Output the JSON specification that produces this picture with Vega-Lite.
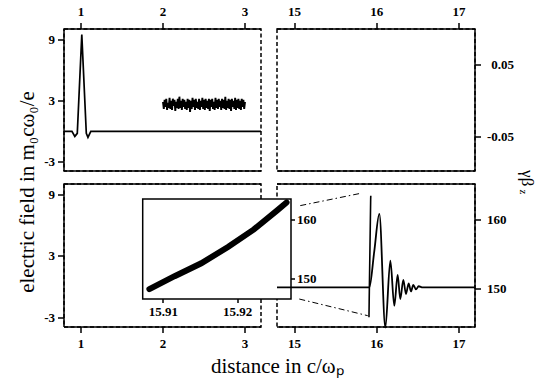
{
  "$schema": "https://vega.github.io/schema/vega-lite/v6.json",
  "background": "white",
  "padding": {"left": 16, "top": 5, "right": 5, "bottom": 5},
  "config": {
    "font": "Liberation Serif",
    "view": {"stroke": "black", "strokeWidth": 1.5, "strokeDash": [4, 2.5]},
    "style": {
      "guide-label": {"font": "Liberation Serif", "fontSize": 13, "fill": "black", "fontWeight": "bold"},
      "guide-title": {"font": "Liberation Serif", "fill": "black", "fontWeight": "normal"}
    },
    "axis": {
      "translate": 0,
      "domainColor": "black", "domainWidth": 1.5,
      "tickColor": "black", "tickWidth": 1.5, "tickSize": 6,
      "labelColor": "black", "labelFont": "Liberation Serif", "labelFontSize": 13, "labelFontWeight": "bold", "labelPadding": 3,
      "labelFlush": false, "labelOverlap": false,
      "labelExpr": "replace(datum.label, '\u2212', '-')",
      "grid": false,
      "titleFont": "Liberation Serif", "titleColor": "black", "titleFontWeight": "normal"
    },
    "line": {"color": "black", "strokeWidth": 1.7},
    "rule": {"color": "black", "strokeWidth": 1.5}
  },
  "datasets": {
    "tl": [
      {"x": 0.793, "y": 0}, {"x": 0.89, "y": 0}, {"x": 0.925, "y": -0.5}, {"x": 0.955, "y": -0.2},
      {"x": 1.01, "y": 9.5}, {"x": 1.065, "y": -0.2}, {"x": 1.085, "y": -0.6}, {"x": 1.12, "y": 0}, {"x": 3.195, "y": 0}
    ],
    "noise": [
      {"x": 2.00, "y": 2.9}, {"x": 2.01, "y": 2.2}, {"x": 2.02, "y": 3.1}, {"x": 2.03, "y": 2.4}, {"x": 2.04, "y": 3.2},
      {"x": 2.05, "y": 2.1}, {"x": 2.06, "y": 2.8}, {"x": 2.07, "y": 2.3}, {"x": 2.08, "y": 3.3}, {"x": 2.09, "y": 2.2},
      {"x": 2.10, "y": 3.0}, {"x": 2.11, "y": 2.1}, {"x": 2.12, "y": 3.2}, {"x": 2.13, "y": 2.5}, {"x": 2.14, "y": 3.1},
      {"x": 2.15, "y": 2.0}, {"x": 2.16, "y": 2.9}, {"x": 2.17, "y": 2.3}, {"x": 2.18, "y": 3.2}, {"x": 2.19, "y": 2.2},
      {"x": 2.20, "y": 3.4}, {"x": 2.21, "y": 2.3}, {"x": 2.22, "y": 3.0}, {"x": 2.23, "y": 2.1}, {"x": 2.24, "y": 3.2},
      {"x": 2.25, "y": 2.4}, {"x": 2.26, "y": 3.1}, {"x": 2.27, "y": 2.2}, {"x": 2.28, "y": 2.9}, {"x": 2.29, "y": 2.1},
      {"x": 2.30, "y": 3.2}, {"x": 2.31, "y": 2.3}, {"x": 2.32, "y": 3.1}, {"x": 2.33, "y": 1.9}, {"x": 2.34, "y": 3.0},
      {"x": 2.35, "y": 2.2}, {"x": 2.36, "y": 3.3}, {"x": 2.37, "y": 2.4}, {"x": 2.38, "y": 3.1}, {"x": 2.39, "y": 2.1},
      {"x": 2.40, "y": 3.2}, {"x": 2.41, "y": 2.3}, {"x": 2.42, "y": 2.9}, {"x": 2.43, "y": 2.2}, {"x": 2.44, "y": 3.2},
      {"x": 2.45, "y": 2.1}, {"x": 2.46, "y": 3.0}, {"x": 2.47, "y": 2.4}, {"x": 2.48, "y": 3.3}, {"x": 2.49, "y": 2.2},
      {"x": 2.50, "y": 3.1}, {"x": 2.51, "y": 2.1}, {"x": 2.52, "y": 3.2}, {"x": 2.53, "y": 2.3}, {"x": 2.54, "y": 3.0},
      {"x": 2.55, "y": 2.2}, {"x": 2.56, "y": 3.2}, {"x": 2.57, "y": 2.0}, {"x": 2.58, "y": 3.1}, {"x": 2.59, "y": 2.4},
      {"x": 2.60, "y": 3.2}, {"x": 2.61, "y": 2.2}, {"x": 2.62, "y": 2.9}, {"x": 2.63, "y": 2.1}, {"x": 2.64, "y": 3.3},
      {"x": 2.65, "y": 2.3}, {"x": 2.66, "y": 3.1}, {"x": 2.67, "y": 2.2}, {"x": 2.68, "y": 3.2}, {"x": 2.69, "y": 2.4},
      {"x": 2.70, "y": 3.0}, {"x": 2.71, "y": 2.1}, {"x": 2.72, "y": 3.2}, {"x": 2.73, "y": 2.3}, {"x": 2.74, "y": 3.1},
      {"x": 2.75, "y": 2.2}, {"x": 2.76, "y": 3.4}, {"x": 2.77, "y": 2.1}, {"x": 2.78, "y": 3.0}, {"x": 2.79, "y": 2.3},
      {"x": 2.80, "y": 3.2}, {"x": 2.81, "y": 2.2}, {"x": 2.82, "y": 3.1}, {"x": 2.83, "y": 2.0}, {"x": 2.84, "y": 3.2},
      {"x": 2.85, "y": 2.4}, {"x": 2.86, "y": 3.0}, {"x": 2.87, "y": 2.2}, {"x": 2.88, "y": 3.3}, {"x": 2.89, "y": 2.1},
      {"x": 2.90, "y": 3.1}, {"x": 2.91, "y": 2.3}, {"x": 2.92, "y": 3.2}, {"x": 2.93, "y": 2.2}, {"x": 2.94, "y": 3.0},
      {"x": 2.95, "y": 2.1}, {"x": 2.96, "y": 3.2}, {"x": 2.97, "y": 2.4}, {"x": 2.98, "y": 3.1}, {"x": 2.99, "y": 2.2},
      {"x": 3.00, "y": 2.9}
    ],
    "band": [
      {"x": 15.9081, "y": 148.2}, {"x": 15.9115, "y": 150.4}, {"x": 15.9151, "y": 152.6}, {"x": 15.9187, "y": 155.4},
      {"x": 15.9222, "y": 158.4}, {"x": 15.9253, "y": 161.6}, {"x": 15.9266, "y": 163.0}
    ],
    "spike": [
      {"x": 15.906, "y": 145.9}, {"x": 15.9085, "y": 148.2}, {"x": 15.9266, "y": 163.0}, {"x": 15.928, "y": 163.5}
    ],
    "br": [
      {"x": 14.787, "y": 150.23}, {"x": 15.91, "y": 150.23}, {"x": 15.97, "y": 155.4}, {"x": 16.032, "y": 160.87},
      {"x": 16.105, "y": 144.43}, {"x": 16.166, "y": 154.1}, {"x": 16.214, "y": 147.58}, {"x": 16.255, "y": 152.03},
      {"x": 16.287, "y": 148.55}, {"x": 16.324, "y": 151.3}, {"x": 16.356, "y": 149.28}, {"x": 16.389, "y": 150.81},
      {"x": 16.417, "y": 149.65}, {"x": 16.445, "y": 150.58}, {"x": 16.478, "y": 149.94}, {"x": 16.51, "y": 150.4},
      {"x": 16.56, "y": 150.23}, {"x": 17.196, "y": 150.23}
    ],
    "conn": [
      {"xa": 15.070, "ya": 162.07, "xb": 15.809, "yb": 163.86},
      {"xa": 15.058, "ya": 148.55, "xb": 15.891, "yb": 146.14}
    ]
  },
  "columns": 2,
  "spacing": {"row": 13, "column": 16},
  "bounds": "flush",
  "concat": [
    {
      "width": 197, "height": 142,
      "layer": [
        {
          "data": {"name": "tl"},
          "mark": {"type": "line"},
          "encoding": {
            "x": {"field": "x", "type": "quantitative",
                  "scale": {"domain": [0.793, 3.195], "nice": false, "zero": false},
                  "axis": {"orient": "top", "values": [1, 2, 3], "format": "d", "title": null, "labelPadding": 4}},
            "y": {"field": "y", "type": "quantitative",
                  "scale": {"domain": [-3.9, 10.05], "nice": false, "zero": false},
                  "axis": {"orient": "left", "values": [9, 3, -3], "format": "d",
                           "title": "electric field in m\u2080c\u03c9\u2080/e", "titleFontSize": 21,
                           "titleX": -30, "titleY": 163, "titleAngle": -90,
                           "titleBaseline": "alphabetic", "titleAlign": "center"}}
          }
        },
        {
          "data": {"name": "noise"},
          "mark": {"type": "line", "strokeWidth": 1.9},
          "encoding": {
            "x": {"field": "x", "type": "quantitative"},
            "y": {"field": "y", "type": "quantitative"}
          }
        },
        {
          "data": {"values": [{}]},
          "mark": "rule",
          "encoding": {"y": {"datum": -3.9}}
        }
      ]
    },
    {
      "width": 198, "height": 142,
      "data": {"values": [{}]},
      "mark": "rule",
      "encoding": {
        "x": {"datum": 14.787, "type": "quantitative",
              "scale": {"domain": [14.787, 17.196], "nice": false, "zero": false},
              "axis": {"orient": "top", "values": [15, 16, 17], "format": "d", "title": null, "labelPadding": 4}},
        "x2": {"datum": 17.196},
        "y": {"datum": -0.0964, "type": "quantitative",
              "scale": {"domain": [-0.0964, 0.0997], "nice": false, "zero": false},
              "axis": {"orient": "right", "values": [0.05, -0.05], "format": ".2f",
                       "labelAlign": "right", "labelPadding": 33,
                       "title": "\u03b3\u03b2", "titleFontSize": 17, "titleX": 47, "titleY": 149.2,
                       "titleAngle": 90, "titleBaseline": "alphabetic", "titleAlign": "center"}}
      }
    },
    {
      "width": 197, "height": 143,
      "data": {"values": [{}]},
      "mark": "rule",
      "encoding": {
        "x": {"datum": 0.793, "type": "quantitative",
              "scale": {"domain": [0.793, 3.195], "nice": false, "zero": false},
              "axis": {"orient": "bottom", "values": [1, 2, 3], "format": "d", "labelPadding": 5,
                       "title": "distance in c/\u03c9\u209a", "titleFontSize": 21,
                       "titleX": 147, "titleY": 45.7, "titleAlign": "left",
                       "titleBaseline": "alphabetic", "titleAngle": 0}},
        "x2": {"datum": 3.195},
        "y": {"datum": 10.05, "type": "quantitative",
              "scale": {"domain": [-3.9, 10.05], "nice": false, "zero": false},
              "axis": {"orient": "left", "values": [9, 3, -3], "format": "d", "title": null}}
      }
    },
    {
      "width": 198, "height": 143,
      "resolve": {
        "scale": {"x": "independent", "y": "independent"},
        "axis": {"x": "independent", "y": "independent"}
      },
      "layer": [
        {
          "layer": [
            {
              "data": {"values": [{}]},
              "mark": {"type": "rect", "fill": "white", "stroke": "black", "strokeWidth": 1.5},
              "encoding": {
                "x": {"datum": 15.9072, "type": "quantitative",
                      "scale": {"domain": [15.9072, 15.9272], "range": [-134.3, 14], "nice": false, "zero": false},
                      "axis": {"orient": "bottom", "offset": -28, "values": [15.91, 15.92], "format": ".2f",
                               "domain": false, "tickSize": 4, "labelPadding": 3, "title": null}},
                "x2": {"datum": 15.9272},
                "y": {"datum": 146.5, "type": "quantitative",
                      "scale": {"domain": [146.5, 163.6], "range": [115, 15], "nice": false, "zero": false},
                      "axis": {"orient": "right", "offset": -184, "values": [150, 160], "format": "d",
                               "domain": false, "tickSize": 4, "labelPadding": 2, "title": null}},
                "y2": {"datum": 163.6}
              }
            },
            {
              "data": {"name": "band"},
              "mark": {"type": "line", "strokeWidth": 6, "strokeCap": "round"},
              "encoding": {
                "x": {"field": "x", "type": "quantitative"},
                "y": {"field": "y", "type": "quantitative"}
              }
            }
          ]
        },
        {
          "layer": [
            {
              "data": {"name": "br"},
              "mark": {"type": "line", "interpolate": "monotone", "strokeWidth": 1.8},
              "encoding": {
                "x": {"field": "x", "type": "quantitative",
                      "scale": {"domain": [14.787, 17.196], "nice": false, "zero": false},
                      "axis": {"orient": "bottom", "values": [15, 16, 17], "format": "d", "labelPadding": 5, "title": null}},
                "y": {"field": "y", "type": "quantitative",
                      "scale": {"domain": [144.5, 165.2], "nice": false, "zero": false},
                      "axis": {"orient": "right", "values": [150, 160], "format": "d", "labelPadding": 6,
                               "title": "z", "titleFontSize": 11, "titleX": 45, "titleY": 7.9,
                               "titleAngle": 90, "titleBaseline": "alphabetic", "titleAlign": "center"}}
              }
            },
            {
              "data": {"name": "spike"},
              "mark": {"type": "line", "strokeWidth": 1.6},
              "encoding": {
                "x": {"field": "x", "type": "quantitative"},
                "y": {"field": "y", "type": "quantitative"}
              }
            },
            {
              "data": {"name": "conn"},
              "mark": {"type": "rule", "strokeWidth": 1, "strokeDash": [6, 3, 1.5, 3]},
              "encoding": {
                "x": {"field": "xa", "type": "quantitative"},
                "y": {"field": "ya", "type": "quantitative"},
                "x2": {"field": "xb"},
                "y2": {"field": "yb"}
              }
            },
            {
              "data": {"values": [{}]},
              "mark": "rule",
              "encoding": {"y": {"datum": 165.2}}
            }
          ]
        }
      ]
    }
  ]
}
